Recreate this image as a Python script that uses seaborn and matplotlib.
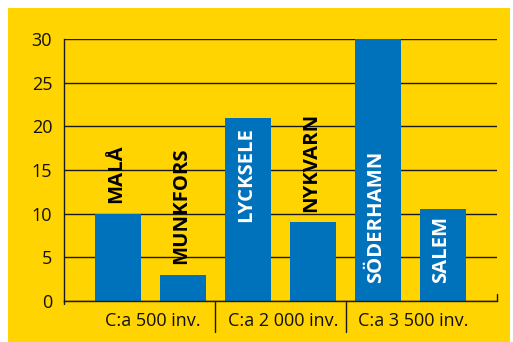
import matplotlib
matplotlib.use("Agg")
import matplotlib.pyplot as plt
import matplotlib.transforms as mtransforms
from matplotlib.patches import Rectangle
import seaborn as sns
import pandas as pd

# Towns, grouped by population size
towns = ["MALÅ", "MUNKFORS", "LYCKSELE", "NYKVARN", "SÖDERHAMN", "SALEM"]
values = [10, 3, 21, 9, 30, 10.5]
label_place = ["above", "above", "top", "above", "base", "base"]
groups = ["C:a 500 inv.", "C:a 2 000 inv.", "C:a 3 500 inv."]
yticks = [0, 5, 10, 15, 20, 25, 30]

YELLOW = "#FFD400"
BLUE = "#0071BB"

sns.set_style("white")
plt.rcParams["font.family"] = ["Open Sans", "DejaVu Sans"]

W, H = 513, 342
fig = plt.figure(figsize=(W / 100, H / 100), dpi=100, facecolor="white")
fig.patches.append(Rectangle((8 / W, 0), (510 - 8) / W, (H - 8) / H,
                             transform=fig.transFigure, facecolor=YELLOW,
                             edgecolor="none", zorder=-10))

ax = fig.add_axes([64 / W, (H - 301) / H, (497 - 64) / W, (301 - 39) / H])
ax.set_facecolor(YELLOW)

df = pd.DataFrame({"town": towns, "value": values})
sns.barplot(data=df, x="town", y="value", color=BLUE, saturation=1,
            width=0.708, linewidth=0, edgecolor="none", ax=ax, zorder=3)

ax.set_xlim(-0.83, len(towns) - 1 + 0.83)
ax.set_ylim(0, 30)
ax.set_yticks(yticks)
ax.set_yticklabels([str(t) for t in yticks], fontsize=13, color="#111111")
ax.tick_params(axis="y", length=0, pad=8.5)
ax.set_xticks([])
ax.set_xlabel("")
ax.set_ylabel("")
ax.set_axisbelow(True)
ax.grid(axis="y", color="#1a1a1a", linewidth=1.0)

for side in ["top", "right"]:
    ax.spines[side].set_visible(False)
for side in ["left", "bottom"]:
    ax.spines[side].set_color("#1a1a1a")
    ax.spines[side].set_linewidth(1.0)
    ax.spines[side].set_zorder(4)

# Town names written along the bars
for i, (name, v, place) in enumerate(zip(towns, values, label_place)):
    kw = dict(rotation=90, ha="center", fontsize=14.6, fontweight="bold",
              textcoords="offset points", zorder=5)
    if place == "above":
        ax.annotate(name, (i, v), xytext=(-1.5, 7.5), va="bottom",
                    color="black", **kw)
    elif place == "top":
        ax.annotate(name, (i, v), xytext=(-1.5, -7), va="top",
                    color="white", **kw)
    else:
        ax.annotate(name, (i, 0), xytext=(-1.5, 13), va="bottom",
                    color="white", **kw)

# Population groups below the axis, with dividers between them
trans = mtransforms.blended_transform_factory(ax.transData, ax.transAxes)
for g, label in enumerate(groups):
    ax.text(2 * g + 0.5 + 0.04, -0.075, label, transform=trans, ha="center",
            va="center", fontsize=13, color="#111111")
for xd in [1.5, 3.5]:
    ax.plot([xd, xd], [0, -0.118], transform=trans, color="#1a1a1a",
            linewidth=1.0, clip_on=False, zorder=4)
ax.plot([1, 1], [0, 7 / 262], transform=ax.transAxes, color="#1a1a1a",
        linewidth=1.0, clip_on=False, zorder=4)
ax.plot([0, 0], [0, -3 / 262], transform=ax.transAxes, color="#1a1a1a",
        linewidth=1.0, clip_on=False, zorder=4)

fig.savefig("out.png", dpi=100, facecolor=fig.get_facecolor())
